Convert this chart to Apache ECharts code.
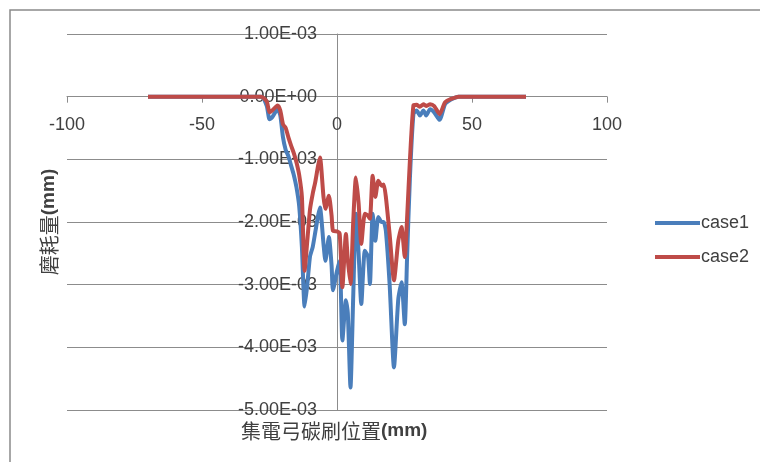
<!DOCTYPE html>
<html>
<head>
<meta charset="utf-8">
<title>磨耗量</title>
<script src="https://cdn.jsdelivr.net/npm/echarts@6/dist/echarts.min.js"></script>
<style>
  html, body { margin: 0; padding: 0; background: #fff; }
  #chart { width: 760px; height: 462px; }
</style>
</head>
<body>
<div id="chart"></div>
<script>
// 集電弓碳刷位置 (mm)
const positions = [
  -70, -28, -26, -25, -24, -22, -21, -20, -19, -18, -17, -16, -15, -14, -13,
  -12, -11, -10, -9, -8, -7, -6.3, -5, -4.3, -3, -2, -1.5, 0, 1, 2,
  3.3, 4, 5, 6, 7, 8, 9, 10.3, 11.5, 12.2, 13.2, 14.2, 15.3, 16.5, 17.3,
  18.1, 19.5, 21.1, 22.7, 23.9, 25.1, 26, 27, 28.3, 29.5, 30.7, 32, 33, 34.5,
  36, 38, 40, 42, 44, 45, 70
];
// 磨耗量 (mm)
const case1 = [
  0, 0, -0.15e-3, -0.36e-3, -0.33e-3, -0.20e-3, -0.30e-3, -0.65e-3, -0.85e-3, -0.95e-3, -1.10e-3, -1.25e-3, -1.45e-3, -1.75e-3, -2.40e-3,
  -3.35e-3, -3.00e-3, -2.55e-3, -2.40e-3, -2.15e-3, -1.90e-3, -1.77e-3, -2.35e-3, -2.62e-3, -2.24e-3, -2.70e-3, -3.09e-3, -2.78e-3, -2.62e-3, -3.89e-3,
  -3.25e-3, -3.45e-3, -4.64e-3, -3.20e-3, -1.87e-3, -2.50e-3, -3.31e-3, -2.46e-3, -2.55e-3, -2.99e-3, -1.87e-3, -2.30e-3, -1.92e-3, -2.00e-3, -2.00e-3,
  -2.14e-3, -3.00e-3, -4.32e-3, -3.23e-3, -2.96e-3, -3.63e-3, -2.50e-3, -1.30e-3, -0.28e-3, -0.22e-3, -0.30e-3, -0.22e-3, -0.30e-3, -0.20e-3,
  -0.25e-3, -0.37e-3, -0.12e-3, -0.05e-3, -0.01e-3, 0, 0
];
const case2 = [
  0, 0, -0.08e-3, -0.25e-3, -0.22e-3, -0.14e-3, -0.22e-3, -0.44e-3, -0.50e-3, -0.65e-3, -0.78e-3, -0.90e-3, -1.05e-3, -1.25e-3, -1.60e-3,
  -2.78e-3, -2.30e-3, -1.80e-3, -1.55e-3, -1.35e-3, -1.10e-3, -0.97e-3, -1.60e-3, -1.79e-3, -1.58e-3, -1.90e-3, -2.14e-3, -2.15e-3, -2.19e-3, -3.04e-3,
  -2.19e-3, -2.60e-3, -2.99e-3, -2.00e-3, -1.29e-3, -1.70e-3, -2.35e-3, -1.87e-3, -1.90e-3, -1.95e-3, -1.26e-3, -1.60e-3, -1.34e-3, -1.42e-3, -1.40e-3,
  -1.60e-3, -2.20e-3, -2.93e-3, -2.30e-3, -2.08e-3, -2.56e-3, -1.90e-3, -1.02e-3, -0.14e-3, -0.13e-3, -0.16e-3, -0.12e-3, -0.15e-3, -0.12e-3,
  -0.15e-3, -0.28e-3, -0.09e-3, -0.04e-3, -0.01e-3, 0, 0
];

const seriesNames = ["case1", "case2"];
const seriesColors = ["#4A7EBB", "#BE4B48"];

function toPairs(ys) {
  return positions.map((x, i) => [x, ys[i]]);
}

// 1.00E-03 風格的刻度文字
function sciLabel(v) {
  if (Math.abs(v) < 1e-12) return "0.00E+00";
  const parts = v.toExponential(2).split("e");
  const exp = parseInt(parts[1], 10);
  const sign = exp < 0 ? "-" : "+";
  const digits = String(Math.abs(exp)).padStart(2, "0");
  return parts[0] + "E" + sign + digits;
}

const chart = echarts.init(document.getElementById("chart"));
const textColor = "#404040";
const lineGray = "#8c8c8c";
const font = "Liberation Sans";
const cjkFont = "Noto Sans CJK TC";

// 標題文字：中文一般字重，(mm) 粗體
const titleRich = {
  cjk: { fontFamily: cjkFont, fontSize: 20, fontWeight: "normal", color: textColor },
  unit: { fontFamily: font, fontSize: 19, fontWeight: "bold", color: textColor },
};

// 繪圖區
const gridLeft = 67, gridRight = 153, gridTop = 34, gridBottom = 52;
const plotW = 760 - gridLeft - gridRight;
const plotH = 462 - gridTop - gridBottom;
const xMin = -100, xMax = 100, yMin = -0.005, yMax = 0.001;
// 軸線交叉於 0（Excel 風格）：用 offset 把整條軸移到 0 的位置
const xAxisOffset = -plotH * (0 - yMin) / (yMax - yMin);
const yAxisOffset = -plotW * (0 - xMin) / (xMax - xMin);

chart.setOption({
  animation: false,
  backgroundColor: "#fff",
  textStyle: { fontFamily: font },
  graphic: [
    {
      type: "rect",
      shape: { x: 10, y: 10, width: 800, height: 500 },
      style: { fill: "none", stroke: "#8a8a8a", lineWidth: 1.5 },
      silent: true,
    },
  ],
  title: [
    {
      text: "{cjk|集電弓碳刷位置}{unit|(mm)}",
      left: 236,
      top: 416,
      textStyle: { fontWeight: "normal", rich: titleRich },
    },
  ],
  legend: {
    orient: "vertical",
    left: 650,
    top: 209,
    itemWidth: 45,
    itemHeight: 4,
    itemGap: 16,
    icon: "rect",
    data: seriesNames,
    textStyle: { fontSize: 18, color: textColor, fontFamily: font, padding: [0, 0, 0, -4] },
  },
  grid: {
    left: gridLeft, right: gridRight, top: gridTop, bottom: gridBottom,
    containLabel: false, outerBoundsMode: "none",
  },
  xAxis: {
    type: "value",
    min: xMin,
    max: xMax,
    interval: 50,
    position: "bottom",
    offset: xAxisOffset,
    axisLine: { onZero: false, lineStyle: { color: lineGray, width: 1 } },
    axisTick: { show: true, length: 6, lineStyle: { color: lineGray } },
    axisLabel: { fontSize: 18, color: textColor, margin: 19, fontFamily: font, hideOverlap: false },
    splitLine: { show: false },
  },
  yAxis: [
    {
      type: "value",
      min: yMin,
      max: yMax,
      interval: 0.001,
      position: "left",
      offset: yAxisOffset,
      axisLine: { show: true, onZero: false, lineStyle: { color: lineGray, width: 1 } },
      axisTick: { show: false },
      axisLabel: { fontSize: 18, color: textColor, margin: 20, fontFamily: font, formatter: sciLabel, hideOverlap: false },
      splitLine: { show: true, lineStyle: { color: lineGray, width: 1 } },
    },
    {
      // 只用來放 y 軸標題（放在圖區左側）
      type: "value",
      min: yMin,
      max: yMax,
      interval: 0.001,
      position: "left",
      offset: 0,
      name: "{cjk|磨耗量}{unit|(mm)}",
      nameLocation: "middle",
      nameGap: 8,
      nameTextStyle: { fontWeight: "normal", rich: titleRich },
      axisLine: { show: false },
      axisTick: { show: false },
      axisLabel: { show: false },
      splitLine: { show: false },
    },
  ],
  series: seriesNames.map((name, i) => ({
    name: name,
    type: "line",
    data: toPairs(i === 0 ? case1 : case2),
    smooth: 0.2,
    symbol: "none",
    color: seriesColors[i],
    lineStyle: { width: 4, color: seriesColors[i] },
  })),
});
</script>
</body>
</html>
